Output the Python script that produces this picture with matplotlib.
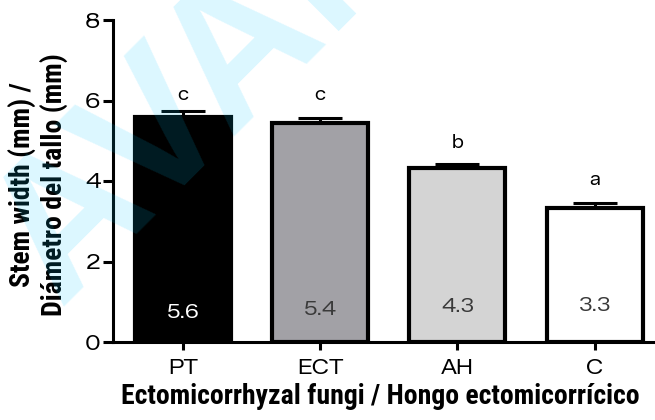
import matplotlib
matplotlib.use("Agg")
import matplotlib.pyplot as plt
import numpy as np

groups = ["PT", "ECT", "AH", "C"]
means = [5.58, 5.45, 4.32, 3.32]
errors = [0.16, 0.12, 0.09, 0.13]
value_labels = ["5.6", "5.4", "4.3", "3.3"]
value_label_y = [0.72, 0.80, 0.87, 0.90]
letters = ["c", "c", "b", "a"]
letter_y = [6.14, 6.14, 4.94, 4.02]
bar_colors = ["#000000", "#a2a1a6", "#d4d4d4", "#ffffff"]
value_colors = ["#ffffff", "#3a3a3a", "#3a3a3a", "#3a3a3a"]

NARROW = ["Roboto Condensed", "Archivo Narrow", "Asap Condensed", "DejaVu Sans"]
REG = ["Zalando Sans SemiExpanded", "Liberation Sans", "DejaVu Sans"]


def main():
    fig = plt.figure(figsize=(6.55, 4.2), dpi=100)
    ax = fig.add_axes([113 / 655, 1 - 342 / 420, 1 - 113 / 655, 322 / 420])

    x = np.arange(len(groups))
    ax.bar(x, means, width=0.7, color=bar_colors, edgecolor="black",
           linewidth=3.0, zorder=2)
    ax.errorbar(x, means, yerr=[np.zeros(len(means)), errors], fmt="none",
                ecolor="black", elinewidth=2.2, capsize=16, capthick=2.2,
                zorder=1)

    for i in range(len(groups)):
        ax.text(x[i], value_label_y[i], value_labels[i], ha="center",
                va="center", fontsize=14, color=value_colors[i], family=REG,
                zorder=3)
        ax.text(x[i], letter_y[i], letters[i], ha="center", va="center",
                fontsize=13, color="black", family=REG, zorder=3)

    ax.set_xlim(-0.51, 3.44)
    ax.set_ylim(0, 8)
    ax.set_yticks([0, 2, 4, 6, 8])
    ax.set_xticks(x)
    ax.set_xticklabels(groups)
    for s in ["top", "right"]:
        ax.spines[s].set_visible(False)
    for s in ["left", "bottom"]:
        ax.spines[s].set_linewidth(2.2)
    ax.tick_params(axis="y", direction="out", length=7, width=2.2, pad=2,
                   labelsize=15.5)
    ax.tick_params(axis="x", direction="out", length=6, width=2.2, pad=6,
                   labelsize=15.5)
    for lab in ax.get_xticklabels() + ax.get_yticklabels():
        lab.set_family(REG)

    fig.text(38 / 655, 1 - 185 / 420, "Stem width (mm) /\nDiámetro del tallo (mm)",
             rotation=90, ha="center", va="center", multialignment="center",
             fontsize=20, fontweight="bold", family=NARROW, linespacing=1.15)
    fig.text(380 / 655, 1 - 396 / 420,
             "Ectomicorrhyzal fungi / Hongo ectomicorrícico",
             ha="center", va="center", fontsize=20, fontweight="bold",
             family=NARROW)

    # watermark
    fig.text(59 / 655, 113 / 420, "AVANCES", rotation=45,
             rotation_mode="anchor", ha="left", va="baseline", fontsize=140,
             fontweight="bold", family=["Liberation Sans", "DejaVu Sans"],
             color="#00c8ff", alpha=0.14, zorder=10)

    fig.savefig("out.png", dpi=100)


if __name__ == "__main__":
    main()
